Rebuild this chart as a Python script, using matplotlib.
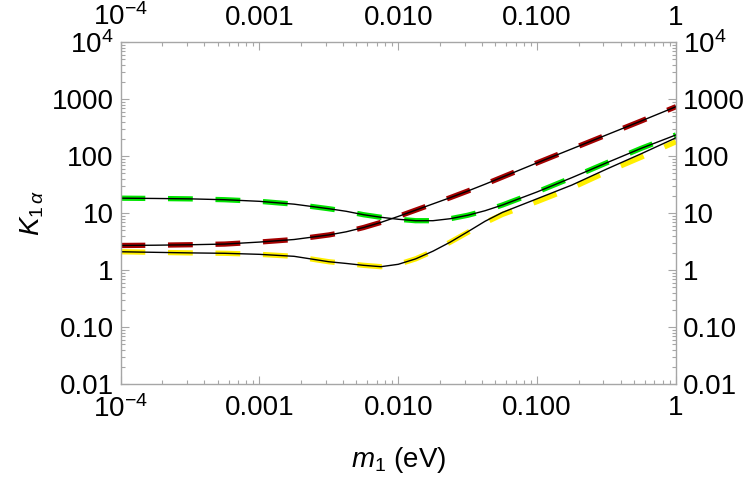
import numpy as np
import matplotlib
matplotlib.use("Agg")
import matplotlib.pyplot as plt
from matplotlib.ticker import FixedLocator, FixedFormatter, LogLocator, NullFormatter

plt.rcParams['font.family'] = ['Liberation Sans', 'DejaVu Sans']
plt.rcParams['mathtext.fontset'] = 'custom'
plt.rcParams['mathtext.rm'] = 'Liberation Sans'
plt.rcParams['mathtext.it'] = 'Liberation Sans:italic'
plt.rcParams['mathtext.bf'] = 'Liberation Sans:bold'

# log10(m1 / eV)
log_m = [-4, -3.75, -3.5, -3.25, -3.0, -2.75, -2.5, -2.375, -2.25, -2.125, -2.0,
         -1.875, -1.75, -1.625, -1.5, -1.375, -1.25, -1.0, -0.75, -0.5, -0.25, 0]

# log10(K_1alpha)
log_green = [1.26, 1.255, 1.248, 1.233, 1.205, 1.155, 1.075, 1.03, 0.97, 0.925, 0.89,
             0.865, 0.865, 0.90, 0.96, 1.04, 1.14, 1.37, 1.62, 1.88, 2.135, 2.37]
log_red = [0.43, 0.435, 0.443, 0.455, 0.49, 0.535, 0.615, 0.67, 0.745, 0.835, 0.94,
           1.05, 1.16, 1.27, 1.385, 1.505, 1.63, 1.88, 2.125, 2.37, 2.615, 2.865]
log_yellow = [0.32, 0.31, 0.30, 0.293, 0.275, 0.24, 0.145, 0.115, 0.082, 0.058, 0.10,
              0.195, 0.33, 0.49, 0.66, 0.83, 0.975, 1.20, 1.44, 1.72, 1.98, 2.25]
log_yellow_line = [0.32, 0.31, 0.30, 0.293, 0.275, 0.24, 0.145, 0.115, 0.082, 0.058, 0.10,
                   0.195, 0.33, 0.49, 0.67, 0.855, 1.01, 1.25, 1.49, 1.77, 2.04, 2.32]

x_ticks = [1e-4, 1e-3, 1e-2, 1e-1, 1]
x_labels = ['$10^{-4}$', '0.001', '0.010', '0.100', '1']
y_ticks = [1e-2, 1e-1, 1, 10, 100, 1000, 1e4]
y_labels = ['0.01', '0.10', '1', '10', '100', '1000', '$10^{4}$']

m = 10.0 ** np.array(log_m)

fig = plt.figure(figsize=(7.5, 4.8), dpi=100)
ax = fig.add_axes([120.5 / 750, 1 - 384 / 480, (676 - 120.5) / 750, (384 - 42) / 480])

lw_c = 3.8
dash = (4.7, 4.3)
ax.plot(m, 10.0 ** np.array(log_yellow), color='#FFEF00', lw=lw_c, dashes=dash)
ax.plot(m, 10.0 ** np.array(log_green), color='#00E400', lw=lw_c, dashes=dash)
ax.plot(m, 10.0 ** np.array(log_red), color='#A40000', lw=lw_c, dashes=dash)
ax.plot(m, 10.0 ** np.array(log_yellow_line), color='black', lw=1.0)
ax.plot(m, 10.0 ** np.array(log_green), color='black', lw=1.0)
ax.plot(m, 10.0 ** np.array(log_red), color='black', lw=1.0)

ax.set_xscale('log')
ax.set_yscale('log')
ax.set_xlim(1e-4, 1)
ax.set_ylim(1e-2, 1e4)

ax.xaxis.set_major_locator(FixedLocator(x_ticks))
ax.xaxis.set_major_formatter(FixedFormatter(x_labels))
ax.yaxis.set_major_locator(FixedLocator(y_ticks))
ax.yaxis.set_major_formatter(FixedFormatter(y_labels))
ax.xaxis.set_minor_locator(LogLocator(base=10, subs=np.arange(2, 10), numticks=20))
ax.yaxis.set_minor_locator(LogLocator(base=10, subs=np.arange(2, 10), numticks=20))
ax.xaxis.set_minor_formatter(NullFormatter())
ax.yaxis.set_minor_formatter(NullFormatter())

gray = '#a6a6a6'
for s in ax.spines.values():
    s.set_color(gray)
    s.set_linewidth(1.0)
ax.tick_params(which='both', direction='in', top=True, right=True,
               labeltop=True, labelright=True, color=gray, width=0.8,
               labelsize=20, labelcolor='black')
ax.tick_params(which='major', length=5.5)
ax.tick_params(which='minor', length=3)
ax.tick_params(axis='x', which='major', pad=8)
ax.tick_params(axis='y', which='major', pad=5)

ax.set_xlabel('$m_1$ (eV)', fontsize=20, labelpad=16)
ax.set_ylabel(r'$K_{1\,\alpha}$', fontsize=20, labelpad=4)

fig.savefig('out.png', dpi=100)
